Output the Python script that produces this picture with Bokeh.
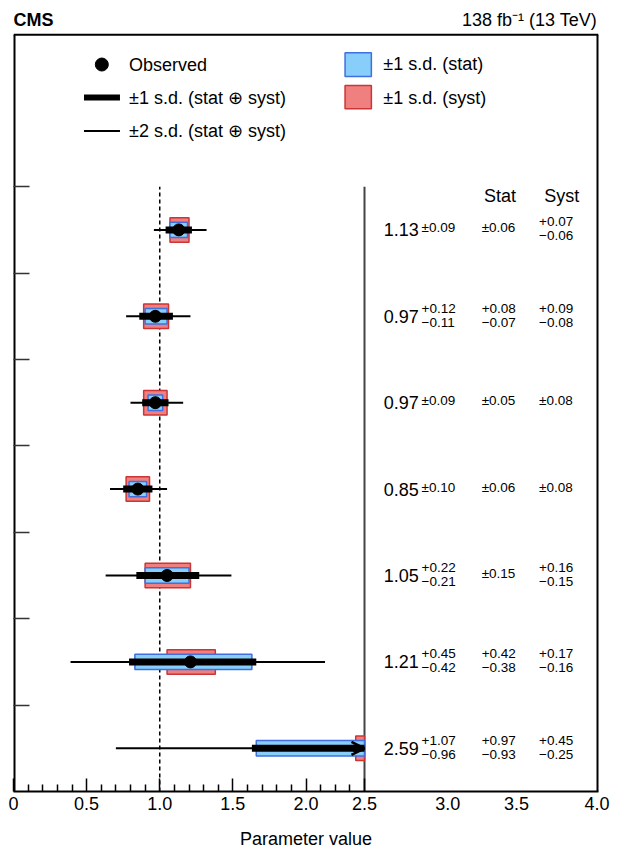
from bokeh.plotting import figure
from bokeh.models import (Range1d, FixedTicker, LinearAxis, ColumnDataSource,
                          Arrow, OpenHead, CustomJSTickFormatter)
from bokeh.core.properties import value
from bokeh.embed import file_html
from bokeh.resources import INLINE
import numpy as np

# ---------------- data (top row first) ----------------
observed  = [1.13, 0.97, 0.97, 0.85, 1.05, 1.21, 2.59]
tot_up    = [0.09, 0.12, 0.09, 0.10, 0.22, 0.45, 1.07]
tot_dn    = [0.09, 0.11, 0.09, 0.10, 0.21, 0.42, 0.96]
stat_up   = [0.06, 0.08, 0.05, 0.06, 0.15, 0.42, 0.97]
stat_dn   = [0.06, 0.07, 0.05, 0.06, 0.15, 0.38, 0.93]
syst_up   = [0.07, 0.09, 0.08, 0.08, 0.16, 0.17, 0.45]
syst_dn   = [0.06, 0.08, 0.08, 0.08, 0.15, 0.16, 0.25]
two_sd_lo = [0.96, 0.77, 0.80, 0.66, 0.63, 0.39, 0.70]
two_sd_hi = [1.32, 1.21, 1.16, 1.05, 1.49, 2.13, 4.90]

ref_value = 1.0
x_tick_values = [0, 0.5, 1.0, 1.5, 2.0, 2.4, 2.97, 3.44, 3.99]
x_tick_labels = ["0", "0.5", "1.0", "1.5", "2.0", "2.5", "3.0", "3.5", "4.0"]
x_minor_ticks = [0.1, 0.2, 0.3, 0.4, 0.6, 0.7, 0.8, 0.9, 1.1, 1.2, 1.3, 1.4,
                 1.6, 1.7, 1.8, 1.9, 2.1, 2.2, 2.3]
col_headers = ["Stat", "Syst"]
exp_text = "CMS"
lumi_text = "138 fb\u207b\u00b9 (13 TeV)"
x_title = "Parameter value"
legend_texts = ["Observed", "\u00b11 s.d. (stat \u2295 syst)", "\u00b12 s.d. (stat \u2295 syst)",
                "\u00b11 s.d. (stat)", "\u00b11 s.d. (syst)"]

# ---------------- layout constants ----------------
FONT = "Liberation Sans"
X_MAX = 4.0
X_CLIP = 2.4          # end of the plotting region (start of text panel)
Y_BOX = 8.76          # top of the boxed area
Y_MAX = 9.155         # includes header strip
n = len(observed)
ys = [n - i - 0.5 for i in range(n)]

BLUE_F, BLUE_L = "#87cefa", "#3f6fe0"
RED_F, RED_L = "#f08080", "#cc3535"

p = figure(width=612, height=851, x_range=Range1d(0, X_MAX), y_range=Range1d(0, Y_MAX),
           output_backend="svg", toolbar_location=None,
           min_border_left=13, min_border_right=14, min_border_top=0, min_border_bottom=60,
           x_axis_location=None, y_axis_location=None)
p.grid.visible = False
p.outline_line_color = None
p.background_fill_color = "white"
p.border_fill_color = "white"

blank = CustomJSTickFormatter(code="return ''")

# y axis (row boundaries, labels hidden)
yax = LinearAxis(ticker=FixedTicker(ticks=list(range(1, n + 1)), minor_ticks=[]),
                 formatter=blank)
yax.major_label_standoff = 0
yax.major_tick_in = 16
yax.major_tick_out = 0
yax.major_tick_line_color = "#333333"
yax.major_tick_line_width = 1.5
yax.minor_tick_line_color = None
yax.axis_line_color = None
p.add_layout(yax, "left")

# x axis: ticks only
xax = LinearAxis(ticker=FixedTicker(ticks=x_tick_values[:6], minor_ticks=x_minor_ticks),
                 formatter=blank)
xax.major_label_standoff = 0
xax.major_tick_in = 13
xax.major_tick_out = 0
xax.minor_tick_in = 7
xax.minor_tick_out = 0
xax.major_tick_line_width = 1.5
xax.minor_tick_line_width = 1.5
xax.axis_line_width = 2
xax.axis_line_color = "black"
p.add_layout(xax, "below")

# x axis: labels only
xlab = LinearAxis(ticker=FixedTicker(ticks=x_tick_values, minor_ticks=[]))
xlab.major_label_overrides = {v: t for v, t in zip(x_tick_values, x_tick_labels)}
xlab.major_tick_in = 0
xlab.major_tick_out = 0
xlab.axis_line_color = None
xlab.major_label_standoff = 5
xlab.major_label_text_font = FONT
xlab.major_label_text_font_size = "18px"
xlab.major_label_text_color = "black"
xlab.axis_label = x_title
xlab.axis_label_text_font = FONT
xlab.axis_label_text_font_style = "normal"
xlab.axis_label_text_font_size = "18px"
xlab.axis_label_text_color = "black"
xlab.axis_label_standoff = 16
p.add_layout(xlab, "below")

# box lines (left, top, right)
p.segment(x0=[0, 0, X_MAX], y0=[0, Y_BOX, 0], x1=[0, X_MAX, X_MAX], y1=[Y_BOX, Y_BOX, Y_BOX],
          line_color="black", line_width=[4, 2, 4])

# ---------------- derived geometry ----------------
obs = np.array(observed)
clip = lambda a: np.minimum(np.array(a), X_CLIP)
src = ColumnDataSource(dict(
    y=ys,
    stat_l=clip(obs - np.array(stat_dn)), stat_r=clip(obs + np.array(stat_up)),
    syst_l=clip(obs - np.array(syst_dn)), syst_r=clip(obs + np.array(syst_up)),
    tot_l=clip(obs - np.array(tot_dn)), tot_r=clip(obs + np.array(tot_up)),
    sd2_l=clip(two_sd_lo), sd2_r=clip(two_sd_hi),
    red_b=np.array(ys) - 0.142, red_t=np.array(ys) + 0.142,
    blue_b=np.array(ys) - 0.089, blue_t=np.array(ys) + 0.089,
))

# reference lines
p.segment(x0=[ref_value], y0=[0], x1=[ref_value], y1=[n], line_color="black",
          line_width=1.5, line_dash="4 3")
p.segment(x0=[X_CLIP], y0=[0], x1=[X_CLIP], y1=[n], line_color="#444444", line_width=2)

p.quad(left="syst_l", right="syst_r", bottom="red_b", top="red_t", source=src,
       fill_color=RED_F, line_color=RED_L, line_width=1.5)
p.quad(left="stat_l", right="stat_r", bottom="blue_b", top="blue_t", source=src,
       fill_color=BLUE_F, line_color=BLUE_L, line_width=1.5)
p.segment(x0="sd2_l", y0="y", x1="sd2_r", y1="y", source=src, line_color="black", line_width=2)
p.segment(x0="tot_l", y0="y", x1="tot_r", y1="y", source=src, line_color="black", line_width=7)
vis = obs <= X_CLIP
p.scatter(x=list(obs[vis]), y=[ys[i] for i in range(n) if vis[i]], size=12,
          marker="circle", fill_color="black", line_color="black")

# arrows for clipped rows
clipped = [i for i in range(n) if observed[i] + tot_up[i] > X_CLIP]
if clipped:
    asrc = ColumnDataSource(dict(x0=[X_CLIP - 0.08] * len(clipped), x1=[X_CLIP] * len(clipped),
                                 y=[ys[i] for i in clipped]))
    p.add_layout(Arrow(end=OpenHead(size=13, line_width=2.5, line_color="black"),
                       x_start="x0", y_start="y", x_end="x1", y_end="y",
                       line_width=7, line_color="black", source=asrc))

# ---------------- text panel ----------------
def fmt(v):
    return "%.2f" % v

p.text(x=[2.531] * n, y=ys, text=[fmt(v) for v in observed], text_font=value(FONT),
       text_font_size="18px", text_align="left", text_baseline="middle", text_color="black")

def err_items(x, ups, dns):
    xs, yy, tt, off = [], [], [], []
    for i in range(n):
        if abs(ups[i] - dns[i]) < 1e-9:
            xs.append(x); yy.append(ys[i]); tt.append("\u00b1" + fmt(ups[i])); off.append(-2)
        else:
            xs += [x, x]; yy += [ys[i], ys[i]]
            tt += ["+" + fmt(ups[i]), "\u2212" + fmt(dns[i])]
            off += [-8, 6]
    return dict(x=xs, y=yy, t=tt, off=off)

for xpos, ups, dns in [(2.79, tot_up, tot_dn), (3.201, stat_up, stat_dn), (3.594, syst_up, syst_dn)]:
    d = err_items(xpos, ups, dns)
    p.text(x="x", y="y", text="t", y_offset="off", source=ColumnDataSource(d),
           text_font=value(FONT), text_font_size="13.5px", text_align="left",
           text_baseline="middle", text_color="black")

p.text(x=[3.327, 3.748], y=[6.898, 6.898], text=col_headers, text_font=value(FONT),
       text_font_size="18px", text_align="center", text_baseline="middle", text_color="black")

# ---------------- legend (drawn) ----------------
p.scatter(x=[0.604], y=[8.414], size=13, marker="circle", fill_color="black", line_color="black")
p.segment(x0=[0.482], y0=[8.032], x1=[0.728], y1=[8.032], line_color="black", line_width=6)
p.segment(x0=[0.482], y0=[7.645], x1=[0.728], y1=[7.645], line_color="black", line_width=2)
p.quad(left=[2.267], right=[2.447], bottom=[8.275], top=[8.550], fill_color=BLUE_F,
       line_color=BLUE_L, line_width=1.5)
p.quad(left=[2.267], right=[2.447], bottom=[7.902], top=[8.171], fill_color=RED_F,
       line_color=RED_L, line_width=1.5)
p.text(x=[0.79, 0.79, 0.79, 2.529, 2.529], y=[8.414, 8.032, 7.645, 8.420, 8.027],
       text=legend_texts, text_font=value(FONT), text_font_size="18px",
       text_align="left", text_baseline="middle", text_color="black")

# ---------------- header ----------------
p.text(x=[0], y=[8.932], text=[exp_text], text_font=value(FONT), text_font_size="18px",
       text_font_style="bold", text_align="left", text_baseline="middle", text_color="black")
p.text(x=[3.99], y=[8.932], text=[lumi_text], text_font=value(FONT), text_font_size="18px",
       text_align="right", text_baseline="middle", text_color="black")

open("out.html", "w").write(file_html(p, INLINE))
